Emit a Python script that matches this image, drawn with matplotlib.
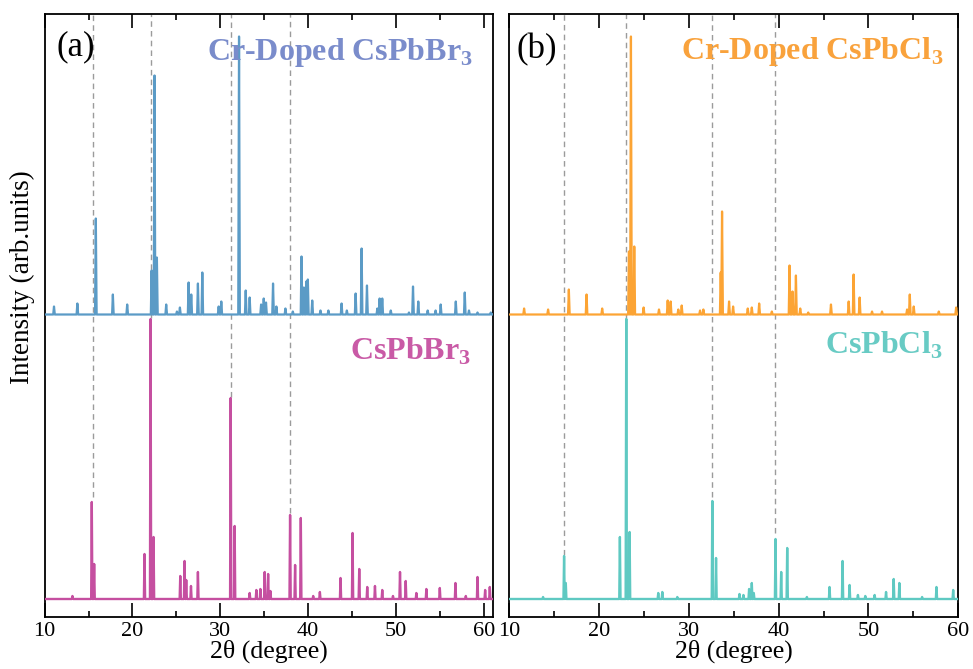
import numpy as np
import matplotlib
matplotlib.use("Agg")
import matplotlib.pyplot as plt
from matplotlib.ticker import MultipleLocator

plt.rcParams['font.family'] = ['Liberation Serif', 'DejaVu Serif']
plt.rcParams['mathtext.fontset'] = 'custom'
plt.rcParams['mathtext.rm'] = 'Liberation Serif'
plt.rcParams['mathtext.bf'] = 'Liberation Serif:bold'

# ---------------- data (peak positions in 2theta, heights in arb. units) ----------------
br_doped_pos = [11.07, 13.73, 15.83, 17.77, 19.40, 22.18, 22.51, 22.78, 23.84, 25.06, 25.40,
                26.39, 26.69, 27.45, 27.95, 29.81, 30.11, 32.13, 32.89, 33.34, 34.64, 34.94,
                35.20, 36.00, 36.38, 37.41, 38.25, 39.24, 39.51, 39.78, 39.96, 40.46, 41.40,
                42.30, 43.80, 44.40, 45.40, 46.08, 46.69, 47.87, 48.13, 48.43, 49.40, 51.47,
                51.93, 52.53, 53.60, 54.50, 55.08, 56.80, 57.82, 58.30, 59.27, 60.78]
br_doped_int = [8, 11, 96, 20, 10, 44, 239, 57, 10, 3, 7,
                32, 20, 31, 42, 8, 13, 278, 24, 17, 10, 16,
                12, 31, 8, 6, 3, 58, 27, 33, 35, 14, 4,
                4, 11, 4, 21, 66, 29, 6, 16, 16, 4, 2,
                28, 13, 4, 4, 10, 13, 22, 4, 2, 2]

br_pos = [13.17, 15.37, 15.64, 21.37, 22.06, 22.40, 25.44, 25.93, 26.12, 26.66, 27.45,
          31.18, 31.63, 33.34, 34.10, 34.56, 35.05, 35.44, 35.70, 37.94, 38.51, 39.16,
          40.57, 41.33, 43.68, 45.05, 45.81, 46.72, 47.60, 48.43, 49.65, 50.45, 51.10,
          52.31, 53.45, 54.98, 56.76, 57.94, 59.27, 60.14, 60.67]
br_int = [3, 97, 35, 45, 280, 62, 23, 38, 19, 13, 27,
          201, 73, 6, 9, 10, 27, 25, 8, 84, 34, 81,
          3, 7, 21, 66, 30, 12, 13, 9, 3, 27, 18,
          6, 10, 11, 16, 3, 22, 9, 12]

cl_doped_pos = [11.68, 14.35, 16.66, 18.63, 20.37, 23.35, 23.57, 23.94, 24.98, 26.69,
                27.66, 27.99, 28.84, 29.22, 31.26, 31.63, 33.56, 33.71, 34.49, 34.94,
                36.57, 37.02, 37.84, 39.25, 41.22, 41.55, 41.93, 42.41, 43.30, 45.83,
                47.80, 48.35, 49.02, 50.40, 51.51, 54.30, 54.60, 55.04, 57.83, 59.76]
cl_doped_int = [6, 5, 25, 20, 6, 63, 278, 68, 7, 5,
                14, 13, 5, 9, 4, 5, 42, 103, 13, 8,
                6, 7, 11, 3, 49, 23, 39, 6, 2, 10,
                13, 40, 17, 3, 3, 5, 20, 8, 3, 7]

cl_pos = [13.79, 16.13, 16.32, 22.34, 23.05, 23.42, 26.61, 27.06, 28.73, 32.63, 33.04,
          35.65, 36.09, 36.72, 37.02, 37.24, 39.66, 40.29, 40.96, 43.15, 45.67, 47.12,
          47.90, 48.83, 49.65, 50.69, 51.96, 52.81, 53.44, 55.97, 57.57, 59.43]
cl_int = [2, 43, 16, 62, 280, 67, 6, 7, 2, 98, 41,
          5, 4, 10, 16, 6, 60, 27, 51, 2, 12, 38,
          14, 4, 3, 4, 7, 20, 16, 2, 12, 9]

# dashed reference lines: position and lower end (top of the reference peak)
br_ref_pos = [15.56, 22.10, 31.22, 37.90]
br_ref_end = [119.7, 298.7, 219.7, 103.7]
cl_ref_pos = [16.13, 22.98, 32.63, 39.62]
cl_ref_end = [61.7, 296.7, 119.7, 83.7]

xticks = [10, 20, 30, 40, 50, 60]

# ---------------- style ----------------
c_blue, c_blue_t = '#5b9bc6', '#7a8ccb'
c_pink, c_pink_t = '#c54fa0', '#c95aa6'
c_orange, c_orange_t = '#fca434', '#f9a23c'
c_teal, c_teal_t = '#5fc9c2', '#68cbc4'

W, H = 973, 669
fig = plt.figure(figsize=(W / 100, H / 100), dpi=100)
ax1 = fig.add_axes([44.6 / W, (H - 616.7) / H, 448.1 / W, 602.7 / H])
ax2 = fig.add_axes([509.0 / W, (H - 616.7) / H, 449.3 / W, 602.7 / H])

YMAX = 602.7
BASE_TOP = 302.2
BASE_BOT = 17.7


def profile(pos, inten, lo, hi, hw):
    xs, ys = [lo], [0.0]
    for p, h in sorted(zip(pos, inten)):
        xs += [p - hw, p, p + hw]
        ys += [0.0, h, 0.0]
    xs.append(hi)
    ys.append(0.0)
    return np.array(xs), np.array(ys)


def panel(ax, xmax, top, bot, ref_pos, ref_end, c_top, c_bot, ct_top, ct_bot,
          letter, name_top, name_bot, tx_top, ty_top, tx_bot, ty_bot, lx, ly):
    ax.set_xlim(10, xmax)
    ax.set_ylim(0, YMAX)
    ax.vlines(ref_pos, ref_end, YMAX, colors='#9b9b9b', linestyles=(0, (4, 3)),
              linewidth=1.0, zorder=1)
    x, y = profile(top[0], top[1], 10, xmax, 0.09)
    ax.fill_between(x, BASE_TOP, y + BASE_TOP, color=c_top, linewidth=0, zorder=2)
    ax.plot(x, y + BASE_TOP, color=c_top, lw=1.6, zorder=3)
    x, y = profile(bot[0], bot[1], 10, xmax, 0.07)
    ax.plot(x, y + BASE_BOT, color=c_bot, lw=1.7, zorder=3)

    ax.xaxis.set_major_locator(MultipleLocator(10))
    ax.xaxis.set_minor_locator(MultipleLocator(5))
    ax.set_xticks(xticks)
    ax.set_xticklabels([str(t) for t in xticks])
    ax.set_yticks([])
    ax.tick_params(axis='x', which='both', direction='in', top=True, bottom=True,
                   width=1.2, labelsize=16, pad=4)
    ax.tick_params(axis='x', which='major', length=10)
    ax.tick_params(axis='x', which='minor', length=4.5)
    for s in ax.spines.values():
        s.set_linewidth(1.3)
    ax.set_xlabel('2θ (degree)', fontsize=18.5, labelpad=-1)

    ax.text(lx, ly, letter, transform=ax.transAxes, fontsize=25, ha='left', va='baseline')
    ax.text(tx_top, ty_top, name_top, transform=ax.transAxes, fontsize=23,
            fontweight='bold', color=ct_top, ha='right', va='baseline')
    ax.text(tx_bot, ty_bot, name_bot, transform=ax.transAxes, fontsize=23,
            fontweight='bold', color=ct_bot, ha='right', va='baseline')


panel(ax1, 61.0, (br_doped_pos, br_doped_int), (br_pos, br_int), br_ref_pos, br_ref_end,
      c_blue, c_pink, c_blue_t, c_pink_t, '(a)',
      r'Cr-Doped CsPbBr$_\mathbf{3}$', r'CsPbBr$_\mathbf{3}$',
      0.955, 0.9237, 0.953, 0.427, 0.026, 0.932)
panel(ax2, 60.0, (cl_doped_pos, cl_doped_int), (cl_pos, cl_int), cl_ref_pos, cl_ref_end,
      c_orange, c_teal, c_orange_t, c_teal_t, '(b)',
      r'Cr-Doped CsPbCl$_\mathbf{3}$', r'CsPbCl$_\mathbf{3}$',
      0.967, 0.925, 0.966, 0.436, 0.016, 0.9265)

ax1.set_ylabel('Intensity (arb.units)', fontsize=19.5)
ax1.yaxis.set_label_coords(-0.022, 0.564)

fig.savefig('out.png', dpi=100)
